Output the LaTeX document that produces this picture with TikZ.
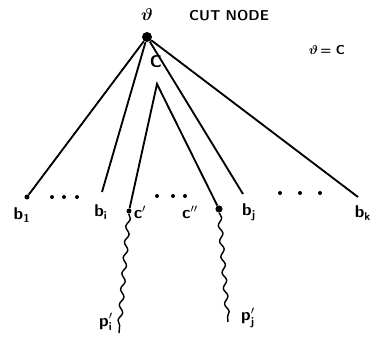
\documentclass[tikz,border=0pt]{standalone}
\usepackage{amsmath,bm}
\DeclareMathAlphabet{\mathsfb}{OT1}{cmss}{bx}{n}
\usetikzlibrary{decorations.pathmorphing}
\begin{document}
\begin{tikzpicture}[x=0.7pt, y=-0.7pt,
  v/.style={circle, fill, inner sep=0pt, minimum size=3.5pt},
  dot/.style={circle, fill, inner sep=0pt, minimum size=2.8pt},
  lbl/.style={font=\sffamily\bfseries\large, inner sep=1pt},
  e/.style={line width=1.3pt},
  w/.style={line width=1pt, decorate, decoration={snake, amplitude=1.4pt, segment length=11pt}}]
  \useasboundingbox (0,0) rectangle (372,338);
  % tree nodes
  \node[v, minimum size=7pt] (root) at (147,37) {};
  \coordinate (c) at (157,84);
  \node[v] (b1) at (27,197) {};
  \coordinate (bi) at (102,192);
  \node[v] (c1) at (129,211) {};
  \node[v, minimum size=5pt] (c2) at (219,209) {};
  \coordinate (bj) at (243,194);
  \coordinate (bk) at (358,197);
  \coordinate (pi) at (119,333);
  \coordinate (pj) at (228,322);
  % edges
  \foreach \to in {b1, bi, bj, bk}
    \draw[e] (root) -- (\to);
  \draw[e] (c1) -- (c) -- (c2);
  \draw[w] (c1) -- (pi);
  \draw[w] (c2) -- (pj);
  % dots
  \foreach \x/\y [count=\k] in {52/197, 64/197, 77/197, 157/196, 173/196, 185/196, 280/193, 300/193, 320/193}
    \node[dot] (d\k) at (\x,\y) {};
  % labels
  \node[lbl] (vlbl) at (147,15) {$\bm{\vartheta}$};
  \node[lbl, font=\sffamily\bfseries] (cut) at (229,16) {CUT NODE};
  \node[lbl, font=\sffamily\bfseries\small] (eq) at (327,50) {$\bm{\vartheta}$\,= C};
  \node[lbl] (clbl) at (156,62) {C};
  \node[lbl] (lb1) at (22,215) {$\mathsfb{b}_{\mathsfb{1}}$};
  \node[lbl] (lbi) at (101,212) {$\mathsfb{b}_{\mathsfb{i}}$};
  \node[lbl] (lc1) at (140,212) {$\mathsfb{c}'$};
  \node[lbl] (lc2) at (190,212) {$\mathsfb{c}''$};
  \node[lbl] (lbj) at (249,212) {$\mathsfb{b}_{\mathsfb{j}}$};
  \node[lbl] (lbk) at (363,213) {$\mathsfb{b}_{\mathsfb{k}}$};
  \node[lbl] (lpi) at (106,322) {$\mathsfb{p}'_{\mathsfb{i}}$};
  \node[lbl] (lpj) at (248,318) {$\mathsfb{p}'_{\mathsfb{j}}$};
\end{tikzpicture}
\end{document}
